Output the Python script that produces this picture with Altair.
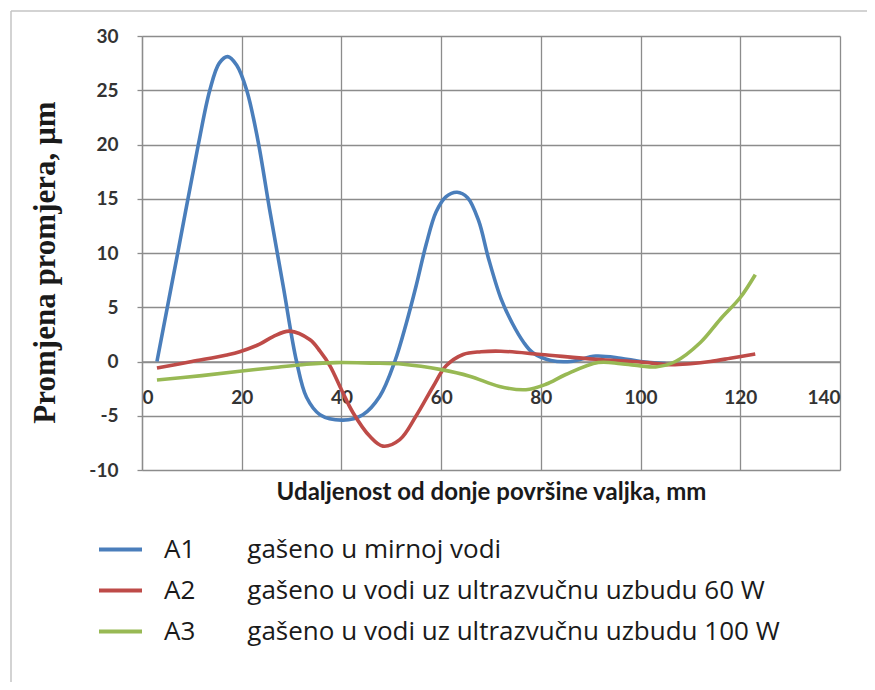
import altair as alt
import pandas as pd

# ---- data ----
a1_x = [3, 7, 11.3, 13.6, 15.5, 17.2, 19, 21, 23.2, 25.6, 28.3, 31, 33, 35.7, 40.3, 44.3, 47.7,
        50.7, 53, 55, 57, 59, 61, 63.2, 65.3, 67.5, 69.5, 72, 74.3, 76.5, 78.4, 82, 86, 91, 96, 100, 105]
a1_y = [0, 9.6, 20, 25, 27.5, 28.1, 27.3, 25, 20.5, 14, 7, 0, -3.3, -4.9, -5.4, -4.9, -3.2,
        0, 3.5, 7, 10.8, 13.8, 15.2, 15.6, 15.1, 13, 9.5, 5.8, 3.5, 1.8, 0.8, 0.1, 0, 0.5, 0.3, 0, -0.2]

a2_x = [3, 10, 17, 19.6, 23.6, 26.3, 29.6, 33.7, 35.7, 37.7, 40, 42.3, 45.7, 48.3, 51.7, 55,
        58.4, 61, 64.4, 68, 72, 80, 91, 100, 106, 110, 114, 118, 123]
a2_y = [-0.6, 0, 0.6, 0.9, 1.6, 2.3, 2.8, 2.0, 0.95, -0.4, -2.6, -4.7, -6.9, -7.8, -7.2, -5.0,
        -2.3, -0.4, 0.65, 0.9, 0.95, 0.65, 0.2, -0.05, -0.3, -0.2, 0, 0.3, 0.7]

a3_x = [3, 12, 19.6, 25.7, 33, 39, 46, 52.4, 60, 65.7, 71.7, 77, 81, 85, 91.5, 96, 100, 103,
        107, 112, 116, 120, 123]
a3_y = [-1.7, -1.3, -0.9, -0.6, -0.25, -0.1, -0.15, -0.25, -0.75, -1.35, -2.3, -2.6, -2.1, -1.2,
        -0.1, -0.2, -0.4, -0.5, 0, 1.75, 3.9, 5.9, 8.0]

series_names = [
    "A1\u2003\u2003gašeno u mirnoj vodi",
    "A2\u2003\u2003gašeno u vodi uz ultrazvučnu uzbudu 60 W",
    "A3\u2003\u2003gašeno u vodi uz ultrazvučnu uzbudu 100 W",
]
series_colors = ["#4A7EBB", "#BE4B48", "#98B954"]

x_ticks = [0, 20, 40, 60, 80, 100, 120, 140]
y_ticks = [-10, -5, 0, 5, 10, 15, 20, 25, 30]

rows = []
for name, xs, ys in zip(series_names, [a1_x, a2_x, a3_x], [a1_y, a2_y, a3_y]):
    for i, (xv, yv) in enumerate(zip(xs, ys)):
        rows.append({"serija": name, "x": xv, "y": yv, "i": i})
df = pd.DataFrame(rows)

GRID = "#8c8c8c"
TICKFONT = "Lato"

lines = alt.Chart(df).mark_line(interpolate="catmull-rom", strokeWidth=3.6).encode(
    x=alt.X("x:Q",
            scale=alt.Scale(domain=[0, 140], nice=False),
            axis=alt.Axis(values=x_ticks, title="Udaljenost od donje površine valjka, mm",
                          offset=-108.5, ticks=False, tickSize=0, labelPadding=27,
                          domainColor=GRID, domainWidth=1.3,
                          gridColor=GRID, gridWidth=1.3,
                          labelFont=TICKFONT, labelFontSize=19, labelColor="#333333",
                          labelFontWeight="bold",
                          titleFont="Lato", titleFontSize=24, titleFontWeight="bold",
                          titleColor="#1a1a1a", titleY=130.5, titleBaseline="middle")),
    y=alt.Y("y:Q",
            scale=alt.Scale(domain=[-10, 30], nice=False),
            axis=alt.Axis(values=y_ticks, title="Promjena promjera, µm",
                          labelExpr="'' + datum.value",
                          tickSize=5, tickColor=GRID, tickWidth=1.3, labelPadding=19,
                          domainColor=GRID, domainWidth=1.3,
                          gridColor=GRID, gridWidth=1.3,
                          labelFont=TICKFONT, labelFontSize=19, labelColor="#333333",
                          labelFontWeight="bold",
                          titleFont="Liberation Serif", titleFontSize=31, titleFontWeight="bold",
                          titleColor="#1a1a1a", titleX=-97, titleY=226,
                          titleBaseline="middle")),
    color=alt.Color("serija:N",
                    scale=alt.Scale(domain=series_names, range=series_colors),
                    legend=alt.Legend(orient="none", legendX=-45, legendY=490, title=None,
                                      symbolType="stroke", symbolSize=1849,
                                      symbolStrokeWidth=4, labelFont="Open Sans",
                                      labelFontSize=26, labelColor="#1a1a1a",
                                      labelOffset=20, rowPadding=4, padding=0,
                                      labelLimit=800)),
    order="i:Q",
)

frame_df = pd.DataFrame({"k": [0]})
left_border = alt.Chart(frame_df).mark_rule(color="#c4c4c4", strokeWidth=1.5).encode(
    x=alt.value(-131), y=alt.value(-25), y2=alt.value(660))
top_border = alt.Chart(frame_df).mark_rule(color="#c4c4c4", strokeWidth=1.5).encode(
    x=alt.value(-131), x2=alt.value(740), y=alt.value(-25))

chart = alt.layer(lines, left_border, top_border).properties(
    width=698, height=434,
    autosize=alt.AutoSizeParams(type="none"),
    padding={"left": 134, "top": 28, "right": 27, "bottom": 212},
    background="white",
).configure_view(stroke=None)

chart.save("out.html", embed_options={"renderer": "svg", "actions": False})
